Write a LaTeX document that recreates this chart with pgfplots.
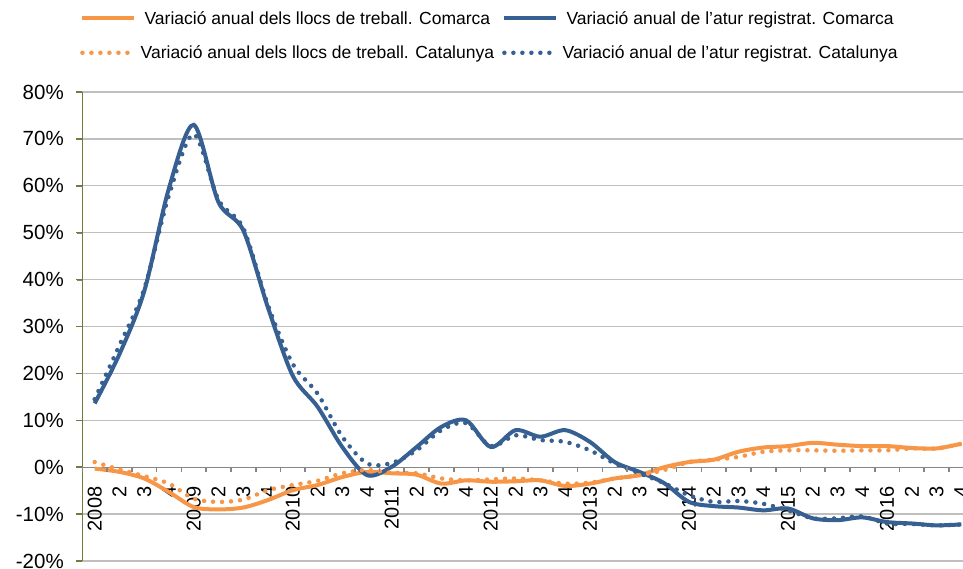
\documentclass[border=0pt]{standalone}
\usepackage{pgfplots}
\pgfplotsset{compat=1.18}
\usepackage{pgfplotstable}
\usepackage{fontspec}
\setmainfont{Liberation Sans}
\definecolor{cOr}{RGB}{247,150,70}
\definecolor{cBl}{RGB}{55,96,146}
\definecolor{cGrid}{RGB}{191,191,191}
\definecolor{cAx}{RGB}{134,134,134}
\definecolor{cOl}{RGB}{110,125,60}

\pgfplotstableread{
i os bs od bd
0 -0.3 13.6 1.1 14.5
1 -1.0 24.1 -0.5 26
2 -2.4 37.5 -1.9 38
3 -5.3 59.5 -3.5 58
4 -8.5 73 -6.7 71
5 -9.0 56.5 -7.4 57
6 -8.6 50.5 -6.9 51
7 -7.0 34 -4.9 34.5
8 -4.9 19.5 -3.8 22
9 -3.8 12.9 -2.9 15.7
10 -2.1 4.3 -1.3 6.5
11 -1.0 -1.7 -0.6 0.8
12 -1.3 0.1 -1.2 0.9
13 -1.6 4.3 -1.3 3.6
14 -3.5 8.6 -2.4 7.9
15 -2.8 10 -2.8 9.4
16 -3.1 4.3 -2.6 4.5
17 -3.0 7.9 -2.4 6.8
18 -2.8 6.5 -2.8 5.8
19 -4.0 7.9 -3.5 5.4
20 -3.5 5.4 -3.3 3.6
21 -2.4 1.1 -2.4 0.8
22 -1.7 -1.0 -1.7 -1.3
23 0.0 -3.4 -0.6 -3.4
24 1.1 -7.4 1.1 -6
25 1.6 -8.3 1.6 -7.4
26 3.3 -8.6 2.2 -7.2
27 4.2 -9.2 3.3 -7.8
28 4.5 -8.8 3.6 -9.2
29 5.2 -10.9 3.6 -10.9
30 4.8 -11.3 3.5 -10.9
31 4.5 -10.7 3.6 -10.5
32 4.5 -11.7 3.6 -12
33 4.1 -12.0 4.0 -12.1
34 4.0 -12.4 4.0 -12.4
35 5.0 -12.2 5.0 -12.2
}\data

\begin{document}
\begin{tikzpicture}
\begin{axis}[
 scale only axis, width=891.4pt, height=469pt,
 xmin=-0.5, xmax=35.5, ymin=-20, ymax=80,
 clip mode=individual,
 axis x line=middle, axis y line=left,
 x axis line style={-, draw=cAx, line width=1.3pt},
 y axis line style={-, draw=cOl, line width=1.3pt},
 hide obscured x ticks=false, hide obscured y ticks=false,
 xtick={-0.5,0.5,...,35.5},
 x tick label as interval,
 xticklabels={2008,2,3,4,2009,2,3,4,2010,2,3,4,2011,2,3,4,2012,2,3,4,2013,2,3,4,2014,2,3,4,2015,2,3,4,2016,2,3,4},
 major tick length=5pt,
 tick align=outside,
 ytick={-20,-10,...,80},
 yticklabels={-20\%,-10\%,0\%,10\%,20\%,30\%,40\%,50\%,60\%,70\%,80\%},
 ymajorgrids, grid style={draw=cGrid, line width=1.3pt},
 xticklabel shift=11pt,
 yticklabel shift=10pt,
 xticklabel style={rotate=90, anchor=east, font=\fontsize{20}{24}\selectfont},
 yticklabel style={font=\fontsize{20.5}{24}\selectfont},
 legend columns=2,
 legend image code/.code={\draw[#1] (2pt,0pt) -- (54pt,0pt);},
 legend style={draw=none, fill=none, inner sep=0pt, at={(axis description cs:0,1)}, anchor=north west, xshift=-2.3pt, yshift=82pt,
   font=\fontsize{17.5}{21}\selectfont, row sep=18pt,
   nodes={inner sep=1pt},
   /tikz/every odd column/.append style={column sep=3pt},
   /tikz/every even column/.append style={column sep=7pt}},
]
\addplot[cOr, line width=4pt, smooth, tension=0.5] table[x=i, y=os] {\data};
\addlegendentry{Variació anual dels llocs de treball. Comarca}
\addplot[cBl, line width=4pt, smooth, tension=0.5] table[x=i, y=bs] {\data};
\addlegendentry{Variació anual de l'atur registrat. Comarca}
\addplot[cOr, line width=4.5pt, smooth, tension=0.5, line cap=round, dash pattern=on 0pt off 9pt] table[x=i, y=od] {\data};
\addlegendentry{Variació anual dels llocs de treball. Catalunya}
\addplot[cBl, line width=4.5pt, smooth, tension=0.5, line cap=round, dash pattern=on 0pt off 9pt] table[x=i, y=bd] {\data};
\addlegendentry{Variació anual de l'atur registrat. Catalunya}
\pgfplotsinvokeforeach{-0.5,0.5,...,35.5}{\draw[cAx, line width=1.5pt] (axis cs:#1,0) -- ++(0pt,-5pt);}
\pgfplotsinvokeforeach{-20,-10,...,80}{\draw[cOl, line width=1.5pt] (axis cs:-0.5,#1) -- ++(-6pt,0pt);}
\end{axis}
\pgfresetboundingbox
\path[use as bounding box] (-82.3pt,-7pt) rectangle (880.7pt,561pt);
\end{tikzpicture}
\end{document}
